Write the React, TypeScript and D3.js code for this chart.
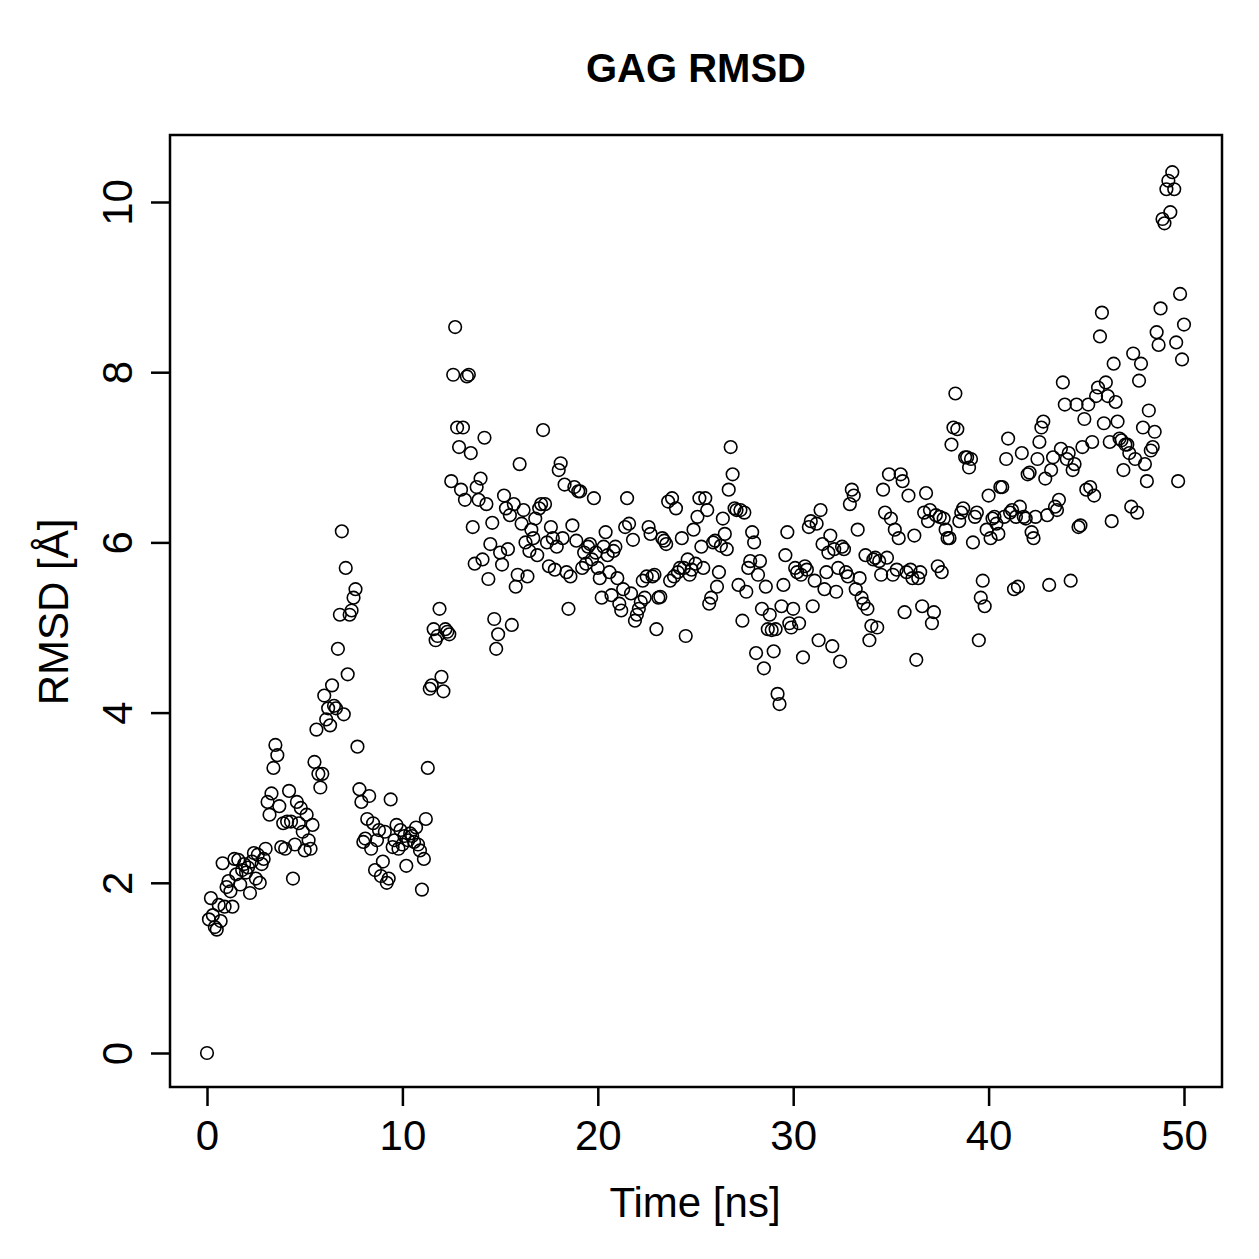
import React, { useEffect, useRef } from 'react';
import * as d3 from 'd3';

// RMSD values (Å), one frame every 0.1 ns from 0 to 50 ns
const rmsd0to10 = [
  0, 1.57, 1.82, 1.62, 1.48, 1.45, 1.74, 1.55, 2.23, 1.72,
  1.95, 2.02, 1.9, 1.72, 2.28, 2.1, 2.27, 1.98, 2.15, 2.22,
  2.12, 2.18, 1.88, 2.25, 2.35, 2.05, 2.33, 2.0, 2.22, 2.28,
  2.4, 2.95, 2.8, 3.05, 3.35, 3.62, 3.5, 2.9, 2.42, 2.7,
  2.4, 2.72, 3.08, 2.72, 2.05, 2.45, 2.95, 2.7, 2.88, 2.6,
  2.38, 2.8, 2.5, 2.4, 2.68, 3.42, 3.8, 3.28, 3.12, 3.28,
  4.2, 3.92, 4.05, 3.85, 4.32, 4.08, 4.05, 4.75, 5.15, 6.13,
  3.98, 5.7, 4.45, 5.15, 5.2, 5.35, 5.45, 3.6, 3.1, 2.95,
  2.48, 2.52, 2.75, 3.02, 2.4, 2.7, 2.15, 2.5, 2.62, 2.08,
  2.25, 2.6, 2.0, 2.05, 2.98, 2.42, 2.5, 2.68, 2.4, 2.62,
];
const rmsd10to20 = [
  2.45, 2.55, 2.2, 2.5, 2.58, 2.55, 2.48, 2.65, 2.45, 2.38,
  1.92, 2.28, 2.75, 3.35, 4.28, 4.32, 4.98, 4.85, 4.9, 5.22,
  4.42, 4.25, 4.98, 4.95, 4.92, 6.72, 7.97, 8.53, 7.35, 7.12,
  6.62, 7.35, 6.5, 7.95, 7.97, 7.05, 6.18, 5.75, 6.65, 6.5,
  6.75, 5.8, 7.23, 6.45, 5.57, 5.98, 6.23, 5.1, 4.75, 4.92,
  5.88, 5.74, 6.55, 6.4, 5.92, 6.32, 5.03, 6.45, 5.48, 5.62,
  6.92, 6.22, 6.38, 6.0, 5.6, 5.9, 6.15, 6.05, 6.28, 5.85,
  6.4, 6.45, 7.32, 6.45, 6.0, 5.72, 6.18, 6.05, 5.68, 5.95,
  6.85, 6.93, 6.05, 6.68, 5.65, 5.22, 5.6, 6.2, 6.65, 6.02,
  6.6, 6.6, 5.7, 5.88, 5.75, 5.95, 5.98, 5.8, 6.52, 5.88,
];
const rmsd20to30 = [
  5.7, 5.58, 5.35, 5.95, 6.12, 5.85, 5.65, 5.38, 5.9, 5.95,
  5.58, 5.28, 5.2, 5.45, 6.18, 6.52, 6.22, 5.4, 6.03, 5.08,
  5.15, 5.22, 5.3, 5.55, 5.35, 5.6, 6.18, 6.1, 5.6, 5.62,
  4.98, 5.35, 5.36, 6.05, 6.02, 5.98, 6.48, 5.55, 6.52, 5.6,
  6.4, 5.65, 5.7, 6.05, 5.7, 4.9, 5.8, 5.62, 5.68, 6.15,
  5.75, 6.3, 6.52, 5.95, 5.7, 6.52, 6.38, 5.28, 5.35, 6.0,
  6.02, 5.48, 5.65, 5.96, 6.28, 6.1, 5.92, 6.62, 7.12, 6.8,
  6.4, 6.38, 5.5, 6.38, 5.08, 6.35, 5.42, 5.7, 5.78, 6.12,
  6.0, 4.7, 5.62, 5.78, 5.22, 4.52, 5.48, 4.98, 5.15, 4.97,
  4.72, 4.98, 4.22, 4.1, 5.25, 5.5, 5.85, 6.12, 5.05, 5.0,
];
const rmsd30to40 = [
  5.22, 5.7, 5.65, 5.05, 5.62, 4.65, 5.72, 5.68, 6.18, 6.25,
  5.25, 5.55, 6.22, 4.85, 6.38, 5.98, 5.45, 5.65, 5.88, 6.08,
  4.78, 5.92, 5.42, 5.7, 4.6, 5.95, 5.92, 5.65, 5.6, 6.45,
  6.62, 6.55, 5.45, 6.15, 5.58, 5.35, 5.28, 5.85, 5.22, 4.85,
  5.02, 5.8, 5.82, 5.0, 5.78, 5.62, 6.62, 6.35, 5.82, 6.8,
  6.28, 5.62, 6.15, 5.68, 6.05, 6.8, 6.72, 5.18, 5.65, 6.55,
  5.68, 5.58, 6.08, 4.62, 5.58, 5.65, 5.25, 6.35, 6.58, 6.25,
  6.38, 5.05, 5.18, 6.32, 5.72, 6.3, 5.65, 6.28, 6.15, 6.05,
  6.05, 7.15, 7.35, 7.75, 7.33, 6.25, 6.35, 6.4, 7.0, 7.0,
  6.88, 6.98, 6.0, 6.3, 6.35, 4.85, 5.35, 5.55, 5.25, 6.15,
];
const rmsd40to50 = [
  6.55, 6.05, 6.28, 6.3, 6.22, 6.1, 6.65, 6.65, 6.3, 6.98,
  7.22, 6.35, 6.38, 5.45, 6.3, 5.48, 6.42, 7.05, 6.3, 6.28,
  6.8, 6.82, 6.12, 6.05, 6.3, 6.98, 7.18, 7.35, 7.42, 6.75,
  6.32, 5.5, 6.85, 7.0, 6.42, 6.38, 6.5, 7.1, 7.88, 7.62,
  6.98, 7.05, 5.55, 6.85, 6.92, 7.62, 6.18, 6.2, 7.12, 7.45,
  6.62, 7.62, 6.65, 7.18, 6.55, 7.72, 7.82, 8.42, 8.7, 7.4,
  7.88, 7.72, 7.18, 6.25, 8.1, 7.65, 7.42, 7.22, 7.2, 6.85,
  7.15, 7.15, 7.05, 6.42, 8.22, 6.98, 6.35, 7.9, 8.1, 7.35,
  6.92, 6.72, 7.55, 7.08, 7.12, 7.3, 8.47, 8.32, 8.75, 9.8,
  9.75, 10.15, 10.25, 9.88, 10.35, 10.15, 8.35, 6.72, 8.92, 8.15,
  8.56,
];
const xTicks = [0, 10, 20, 30, 40, 50];
const yTicks = [0, 2, 4, 6, 8, 10];

const rmsd = [...rmsd0to10, ...rmsd10to20, ...rmsd20to30, ...rmsd30to40, ...rmsd40to50];

export default function App() {
  const ref = useRef<SVGSVGElement>(null);

  useEffect(() => {
    const svg = d3.select(ref.current);
    svg.selectAll('*').remove();

    const box = { left: 170, right: 1222, top: 135, bottom: 1087 };
    const x = d3.scaleLinear().domain([0, 50]).range([207, 1184]);
    const y = d3.scaleLinear().domain([0, 10]).range([1053, 202]);
    const font = 'Liberation Sans, Arial, Helvetica, sans-serif';

    svg.append('rect').attr('width', 1259).attr('height', 1259).attr('fill', '#fff');

    // points
    svg.append('g')
      .selectAll('circle')
      .data(rmsd)
      .enter()
      .append('circle')
      .attr('cx', (d, i) => x(i * 0.1))
      .attr('cy', d => y(d))
      .attr('r', 6.3)
      .attr('fill', 'none')
      .attr('stroke', '#000')
      .attr('stroke-width', 1.6);

    // box
    svg.append('rect')
      .attr('x', box.left)
      .attr('y', box.top)
      .attr('width', box.right - box.left)
      .attr('height', box.bottom - box.top)
      .attr('fill', 'none')
      .attr('stroke', '#000')
      .attr('stroke-width', 2.5);

    // x axis
    const xa = svg.append('g').attr('transform', `translate(0,${box.bottom})`)
      .call(d3.axisBottom(x).tickValues(xTicks).tickSize(19).tickFormat(d3.format('d')));
    xa.select('.domain').remove();
    xa.selectAll('line').attr('stroke-width', 2.5);
    xa.selectAll('text')
      .attr('font-size', 42)
      .attr('font-family', font)
      .attr('fill', '#000')
      .attr('dy', null)
      .attr('y', 63);

    // y axis, labels rotated like R's default
    const ya = svg.append('g').attr('transform', `translate(${box.left},0)`)
      .call(d3.axisLeft(y).tickValues(yTicks).tickSize(19).tickFormat(d3.format('d')));
    ya.select('.domain').remove();
    ya.selectAll('line').attr('stroke-width', 2.5);
    ya.selectAll('text')
      .attr('font-size', 42)
      .attr('font-family', font)
      .attr('fill', '#000')
      .attr('x', null)
      .attr('dy', null)
      .attr('text-anchor', 'middle')
      .attr('transform', 'translate(-38,0) rotate(-90)');

    // labels
    svg.append('text')
      .attr('x', 696).attr('y', 82)
      .attr('text-anchor', 'middle')
      .attr('font-family', font).attr('font-weight', 'bold').attr('font-size', 40)
      .text('GAG RMSD');

    svg.append('text')
      .attr('x', 695).attr('y', 1217)
      .attr('text-anchor', 'middle')
      .attr('font-family', font).attr('font-size', 42)
      .text('Time [ns]');

    svg.append('text')
      .attr('transform', 'translate(68,612) rotate(-90)')
      .attr('text-anchor', 'middle')
      .attr('font-family', font).attr('font-size', 42)
      .text('RMSD [Å]');
  }, []);

  return (
    <svg ref={ref} width={1259} height={1259} style={{ position: 'absolute', left: 0, top: 0 }} />
  );
}
